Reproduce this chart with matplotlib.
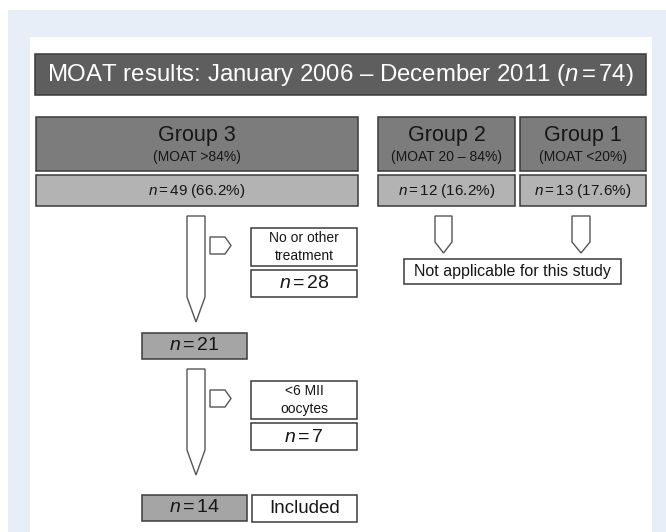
import matplotlib
matplotlib.use("Agg")
import matplotlib.pyplot as plt
from matplotlib.patches import Rectangle, Polygon

plt.rcParams['font.family'] = ['Liberation Sans', 'DejaVu Sans']
plt.rcParams['mathtext.fontset'] = 'custom'
plt.rcParams['mathtext.rm'] = 'Liberation Sans'
plt.rcParams['mathtext.it'] = 'Liberation Sans:italic'

# 数据
total_n = 74
period = "January 2006 \u2013 December 2011"
groups = ["Group 3", "Group 2", "Group 1"]
moat_ranges = ["(MOAT >84%)", "(MOAT 20 \u2013 84%)", "(MOAT <20%)"]
group_n = [49, 12, 13]
group_pct = [66.2, 16.2, 17.6]
excluded_labels = ["No or other\ntreatment", "<6 MII\noocytes"]
excluded_n = [28, 7]
remaining_n = [21, 14]
final_label = "Included"
na_label = "Not applicable for this study"

# 颜色
BG_BLUE = "#e7eef8"
TITLE_GRAY = "#5e5e5e"
GROUP_GRAY = "#7c7c7c"
NROW_GRAY = "#b3b3b3"
STEP_GRAY = "#a5a5a5"
EDGE = "#3a3a3a"
ARROW_EDGE = "#555555"
TXT = "#161616"

fig = plt.figure(figsize=(6.66, 5.32), dpi=100)
ax = fig.add_axes([0, 0, 1, 1])
ax.set_xlim(0, 666)
ax.set_ylim(532, 0)
ax.axis('off')


def n_text(n):
    # n 斜体，等号两边留一点空
    return r"$n\,$=$\,$%d" % n


def box(x0, y0, x1, y1, fc, lw=1.1, ec=EDGE):
    ax.add_patch(Rectangle((x0, y0), x1 - x0, y1 - y0, facecolor=fc,
                           edgecolor=ec, linewidth=lw))


def down_arrow(x0, x1, top, shaft_bottom, tip):
    xc = (x0 + x1) / 2
    pts = [(x0, top), (x1, top), (x1, shaft_bottom), (xc, tip), (x0, shaft_bottom)]
    ax.add_patch(Polygon(pts, closed=True, facecolor="white",
                         edgecolor=ARROW_EDGE, linewidth=1.0))


def right_arrow(x0, y0, x1, y1, tip):
    ym = (y0 + y1) / 2
    pts = [(x0, y0), (x1, y0), (tip, ym), (x1, y1), (x0, y1)]
    ax.add_patch(Polygon(pts, closed=True, facecolor="white",
                         edgecolor=ARROW_EDGE, linewidth=1.0))


# 背景
ax.add_patch(Rectangle((8, 10), 658, 522, facecolor=BG_BLUE, edgecolor="none"))
ax.add_patch(Rectangle((30, 37), 622, 495, facecolor="white", edgecolor="none"))

# 标题
box(35, 54, 646, 95, TITLE_GRAY)
ax.text(340.5, 75, "MOAT results: %s (%s)" % (period, n_text(total_n)),
        ha="center", va="center", color="white", fontsize=17.3)

# 分组
group_cols = [(36, 358), (378, 515), (520, 646)]
for (x0, x1), g, m, n, p in zip(group_cols, groups, moat_ranges, group_n, group_pct):
    xc = (x0 + x1) / 2
    box(x0, 117, x1, 171, GROUP_GRAY)
    ax.text(xc, 135, g, ha="center", va="center", fontsize=15.5, color=TXT)
    ax.text(xc, 157, m, ha="center", va="center", fontsize=10, color=TXT)
    box(x0, 175, x1, 206, NROW_GRAY)
    ax.text(xc, 191, "%s (%.1f%%)" % (n_text(n), p), ha="center", va="center",
            fontsize=11, color=TXT)

# Group 3 流程
step_tops = [216, 369]
for i, top in enumerate(step_tops):
    down_arrow(187, 205, top, top + 81, top + 106)
    right_arrow(210, top + 21, 225, top + 38, 231)
    box(251, top + 12, 357, top + 50, "white")
    ax.text(304, top + 31, excluded_labels[i], ha="center", va="center",
            fontsize=10, linespacing=1.3, color=TXT)
    box(251, top + 54, 357, top + 81, "white")
    ax.text(304, top + 68, n_text(excluded_n[i]), ha="center", va="center",
            fontsize=14, color=TXT)
    y0 = top + 117 if i == 0 else top + 126
    box(142, y0, 247, y0 + 26, STEP_GRAY)
    ax.text(194.5, y0 + 13, n_text(remaining_n[i]), ha="center", va="center",
            fontsize=14, color=TXT)

box(252, 495, 357, 522, "white")
ax.text(304.5, 508.5, final_label, ha="center", va="center", fontsize=13.5,
        color=TXT)

# Group 2 / Group 1
for x0, x1 in [(435, 452), (572, 590)]:
    down_arrow(x0, x1, 216, 242, 253)
box(404, 259, 621, 284, "white")
ax.text(512.5, 271.5, na_label, ha="center", va="center", fontsize=11.5,
        color=TXT)

fig.savefig("out.png", dpi=100)
